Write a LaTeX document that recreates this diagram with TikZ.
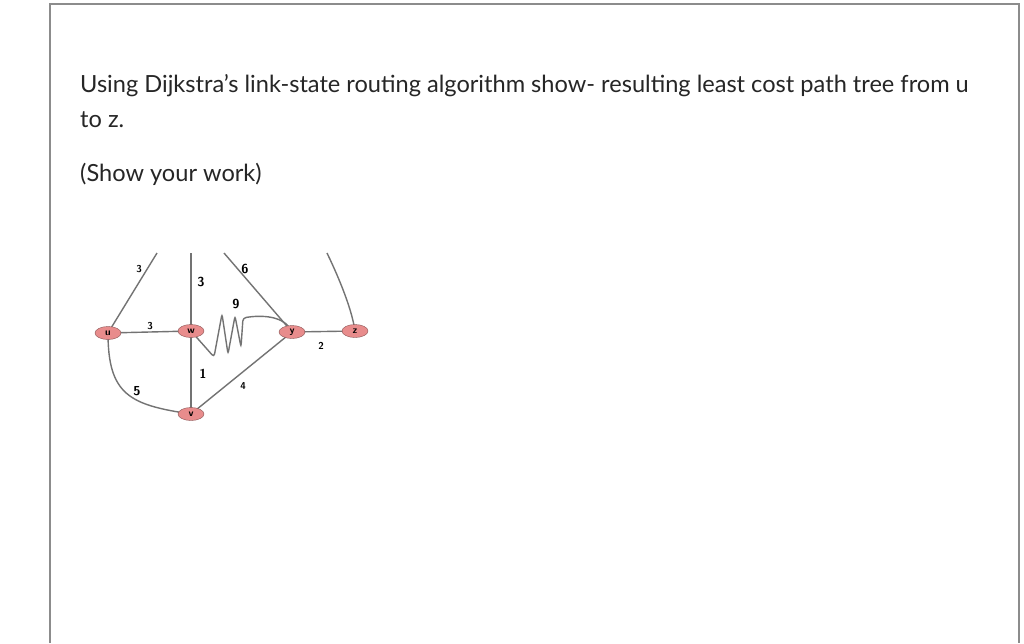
\documentclass[tikz,border=0pt]{standalone}
\usepackage{fontspec}
\setmainfont{Lato}
\usetikzlibrary{shapes.geometric}
\definecolor{frame}{gray}{0.55}
\definecolor{edge}{gray}{0.45}
\definecolor{rfill}{RGB}{232,140,140}
\tikzset{x=1pt,y=-1pt,
 router/.style={ellipse,draw=rfill!60!black,fill=rfill,minimum width=26pt,minimum height=13pt,inner sep=0pt,font=\sffamily\bfseries\fontsize{10}{10}\selectfont},
 link/.style={draw=edge,line width=1.4pt},
 cost/.style={font=\sffamily\bfseries\fontsize{13}{13}\selectfont,inner sep=1pt},
 small/.style={font=\sffamily\bfseries\fontsize{10}{10}\selectfont,inner sep=1pt},
 body/.style={anchor=base west,inner sep=0pt,font=\fontsize{23.6}{23.6}\selectfont,text=black!85}}
\begin{document}
\begin{tikzpicture}
\useasboundingbox (0,0) rectangle (1024,643);
\fill[white] (0,0) rectangle (1024,643);
\draw[frame,line width=1.5pt] (50,643) -- (50,4) -- (1019,4) -- (1019,643);
\node[body] (t1) at (80,92) {Using Dijkstra’s link-state routing algorithm show- resulting least cost path tree from u};
\node[body] (t2) at (80,127) {to z.};
\node[body] (t3) at (80,181) {(Show your work)};
\coordinate (a) at (157,253);
\coordinate (b) at (191,253);
\coordinate (c) at (224,253);
\coordinate (d) at (327,253);
\coordinate (u0) at (108,333);
\coordinate (w0) at (191,331);
\coordinate (y0) at (292,332);
\coordinate (z0) at (355,331);
\coordinate (v0) at (191,414);
\draw[link] (u0) -- (a);
\draw[link] (b) -- (w0) -- (v0);
\draw[link] (c) -- (y0);
\draw[link] (d) .. controls (340,280) and (352,310) .. (z0);
\draw[link] (u0) -- (w0);
\draw[link] (y0) -- (z0);
\draw[link] (y0) -- (v0);
\draw[link] (u0) .. controls (108,395) and (130,405) .. (v0);
\draw[link,rounded corners=3pt] (w0) -- (214,357) -- (222,314) -- (228,354) -- (235,316) -- (241,347) -- (243,318) .. controls (260,315) and (285,315) .. (y0);
\node[router] (u) at (u0) {u};
\node[router] (w) at (w0) {w};
\node[router] (y) at (y0) {y};
\node[router] (z) at (z0) {z};
\node[router] (v) at (v0) {v};
\node[small] (l1) at (139,269) {3};
\node[cost] (l2) at (201,282) {3};
\node[cost] (l3) at (245,269) {6};
\node[cost] (l4) at (236,304) {9};
\node[small] (l5) at (150,326) {3};
\node[small] (l6) at (321,346) {2};
\node[cost] (l7) at (203,374) {1};
\node[small] (l8) at (243,386) {4};
\node[cost] (l9) at (137,391) {5};
\end{tikzpicture}
\end{document}
